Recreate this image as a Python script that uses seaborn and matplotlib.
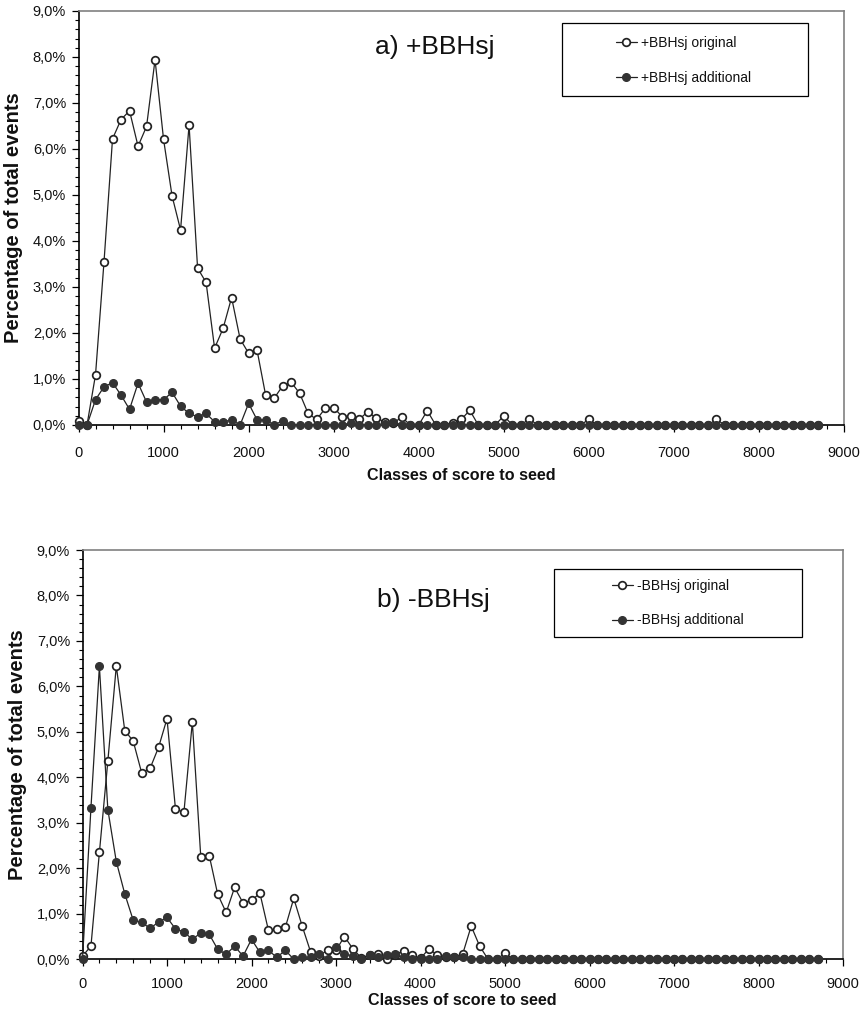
import numpy as np
import pandas as pd
import seaborn as sns
import matplotlib
matplotlib.use("Agg")
import matplotlib.pyplot as plt
from matplotlib.ticker import MultipleLocator, FuncFormatter
from matplotlib.patches import Rectangle

# ---------------- data ----------------
score_classes = list(range(0, 8800, 100))

plus_original = [
    0.09, 0.00, 1.09, 3.55, 6.22, 6.64, 6.83, 6.06, 6.49, 7.94,
    6.21, 4.98, 4.24, 6.52, 3.41, 3.10, 1.67, 2.10, 2.77, 1.87,
    1.56, 1.62, 0.65, 0.58, 0.85, 0.93, 0.69, 0.25, 0.12, 0.36,
    0.38, 0.18, 0.20, 0.12, 0.29, 0.15, 0.07, 0.04, 0.17, 0.00,
    0.00, 0.31, 0.00, 0.00, 0.05, 0.12, 0.32, 0.00, 0.00, 0.00,
    0.20, 0.00, 0.00, 0.13, 0.00, 0.00, 0.00, 0.00, 0.00, 0.00,
    0.12, 0.00, 0.00, 0.00, 0.00, 0.00, 0.00, 0.00, 0.00, 0.00,
    0.00, 0.00, 0.00, 0.00, 0.00, 0.12, 0.00, 0.00, 0.00, 0.00,
    0.00, 0.00, 0.00, 0.00, 0.00, 0.00, 0.00, 0.00,
]
plus_additional = [
    0.00, 0.00, 0.55, 0.83, 0.92, 0.65, 0.34, 0.91, 0.50, 0.55,
    0.55, 0.71, 0.41, 0.25, 0.18, 0.25, 0.07, 0.07, 0.11, 0.00,
    0.47, 0.11, 0.11, 0.00, 0.09, 0.00, 0.00, 0.00, 0.00, 0.00,
    0.00, 0.00, 0.05, 0.00, 0.00, 0.00, 0.03, 0.07, 0.00, 0.00,
    0.00, 0.00, 0.00, 0.00, 0.00, 0.00, 0.00, 0.00, 0.00, 0.00,
    0.00, 0.00, 0.00, 0.00, 0.00, 0.00, 0.00, 0.00, 0.00, 0.00,
    0.00, 0.00, 0.00, 0.00, 0.00, 0.00, 0.00, 0.00, 0.00, 0.00,
    0.00, 0.00, 0.00, 0.00, 0.00, 0.00, 0.00, 0.00, 0.00, 0.00,
    0.00, 0.00, 0.00, 0.00, 0.00, 0.00, 0.00, 0.00,
]
minus_original = [
    0.07, 0.29, 2.35, 4.36, 6.45, 5.03, 4.80, 4.10, 4.20, 4.66,
    5.29, 3.31, 3.23, 5.22, 2.24, 2.28, 1.43, 1.03, 1.58, 1.24,
    1.30, 1.45, 0.64, 0.66, 0.70, 1.34, 0.73, 0.16, 0.08, 0.20,
    0.20, 0.50, 0.23, 0.03, 0.10, 0.12, 0.00, 0.10, 0.19, 0.09,
    0.02, 0.23, 0.09, 0.05, 0.05, 0.12, 0.73, 0.29, 0.00, 0.00,
    0.13, 0.00, 0.00, 0.00, 0.00, 0.00, 0.00, 0.00, 0.00, 0.00,
    0.00, 0.00, 0.00, 0.00, 0.00, 0.00, 0.00, 0.00, 0.00, 0.00,
    0.00, 0.00, 0.00, 0.00, 0.00, 0.00, 0.00, 0.00, 0.00, 0.00,
    0.00, 0.00, 0.00, 0.00, 0.00, 0.00, 0.00, 0.00,
]
minus_additional = [
    0.00, 3.33, 6.44, 3.29, 2.15, 1.44, 0.86, 0.81, 0.68, 0.82,
    0.92, 0.67, 0.60, 0.44, 0.58, 0.55, 0.22, 0.11, 0.29, 0.07,
    0.44, 0.15, 0.20, 0.04, 0.20, 0.00, 0.04, 0.04, 0.12, 0.01,
    0.28, 0.12, 0.07, 0.01, 0.09, 0.04, 0.09, 0.12, 0.04, 0.00,
    0.00, 0.00, 0.00, 0.07, 0.04, 0.06, 0.00, 0.00, 0.00, 0.00,
    0.00, 0.00, 0.00, 0.00, 0.00, 0.00, 0.00, 0.00, 0.00, 0.00,
    0.00, 0.00, 0.00, 0.00, 0.00, 0.00, 0.00, 0.00, 0.00, 0.00,
    0.00, 0.00, 0.00, 0.00, 0.00, 0.00, 0.00, 0.00, 0.00, 0.00,
    0.00, 0.00, 0.00, 0.00, 0.00, 0.00, 0.00, 0.00,
]

panel_titles = ["a) +BBHsj", "b) -BBHsj"]
series_labels = [["+BBHsj original", "+BBHsj additional"],
                 ["-BBHsj original", "-BBHsj additional"]]
x_label = "Classes of score to seed"
y_label = "Percentage of total events"

# ---------------- style ----------------
sns.set_theme(style="white")
plt.rcParams["font.family"] = ["Liberation Sans", "DejaVu Sans"]

W, H = 867, 1016
fig = plt.figure(figsize=(W / 100, H / 100), dpi=100)

def fx(px):
    return px / W

def fy(py):
    return 1 - py / H

# axes rectangles in pixel coords (left, top, right, bottom)
ax_px = [(78.5, 11, 844, 425), (82.5, 550, 843, 959.3)]
title_pos = [(435, 47), (433, 600)]
legend_box = [(562, 23, 808, 96), (554, 569, 802, 637)]
legend_anchor = [(616, 60.5), (612, 603)]
xtick_pad = [10.0, 7.5]
xlabel_pad = [6.0, 2.0]

dark = "#222222"
fill_dark = "#333333"

data_sets = [(plus_original, plus_additional), (minus_original, minus_additional)]

for i in range(2):
    l, t, r, b = ax_px[i]
    ax = fig.add_axes([fx(l), fy(b), fx(r - l), (b - t) / H])
    orig, add = data_sets[i]
    df = pd.DataFrame({"score": score_classes, "orig": orig, "add": add})

    sns.lineplot(data=df, x="score", y="orig", ax=ax, color=dark, linewidth=0.9,
                 marker="o", markersize=6.6, markerfacecolor="white",
                 markeredgecolor=dark, markeredgewidth=1.25, clip_on=False,
                 label=series_labels[i][0], zorder=3)
    sns.lineplot(data=df, x="score", y="add", ax=ax, color=dark, linewidth=0.9,
                 marker="o", markersize=6.6, markerfacecolor=fill_dark,
                 markeredgecolor=fill_dark, markeredgewidth=1.0, clip_on=False,
                 label=series_labels[i][1], zorder=4)

    ax.set_xlim(0, 9000)
    ax.set_ylim(0, 9)
    ax.xaxis.set_major_locator(MultipleLocator(1000))
    ax.xaxis.set_minor_locator(MultipleLocator(200))
    ax.yaxis.set_major_locator(MultipleLocator(1))
    ax.yaxis.set_minor_locator(MultipleLocator(0.2))
    ax.yaxis.set_major_formatter(FuncFormatter(lambda v, p: f"{v:.1f}%".replace(".", ",")))
    ax.tick_params(axis="both", which="major", direction="out", length=5, width=0.9,
                   color="black", labelsize=10.5, labelcolor="#111111",
                   bottom=True, left=True)
    ax.tick_params(axis="x", which="major", pad=xtick_pad[i])
    ax.tick_params(axis="y", which="major", pad=4)
    ax.tick_params(axis="both", which="minor", direction="out", length=3, width=0.8,
                   color="black", bottom=True, left=True)

    for side in ["left", "bottom"]:
        ax.spines[side].set_color("black")
        ax.spines[side].set_linewidth(1.2)
    for side in ["top", "right"]:
        ax.spines[side].set_color("#808080")
        ax.spines[side].set_linewidth(1.2)

    ax.set_xlabel(x_label, fontsize=11.6, fontweight="bold", labelpad=xlabel_pad[i],
                  color="#111111")
    ax.set_ylabel(y_label, fontsize=14.5, fontweight="bold", labelpad=7,
                  color="#111111")

    tx, ty = title_pos[i]
    ax.text((tx - l) / (r - l), (b - ty) / (b - t), panel_titles[i],
            transform=ax.transAxes, ha="center", va="center", fontsize=19,
            color="#111111")

    # legend box (drawn inside the axes, beneath the legend)
    bl, bt, br, bb = legend_box[i]
    ax.add_patch(Rectangle((fx(bl), fy(bb)), fx(br - bl), (bb - bt) / H,
                           transform=fig.transFigure, facecolor="white",
                           edgecolor="black", linewidth=0.9, zorder=5,
                           clip_on=False))
    handles, labels = ax.get_legend_handles_labels()
    for h in handles:
        h.set_markersize(5.5)
    lx, ly = legend_anchor[i]
    leg = ax.legend(handles, labels, loc="center left",
                    bbox_to_anchor=(fx(lx), fy(ly)), bbox_transform=fig.transFigure,
                    frameon=False, fontsize=10, handlelength=1.5, handletextpad=0.3,
                    labelspacing=1.5, borderpad=0, borderaxespad=0)
    for txt in leg.get_texts():
        txt.set_color("#111111")
    leg.set_zorder(6)

fig.savefig("out.png", dpi=100)
